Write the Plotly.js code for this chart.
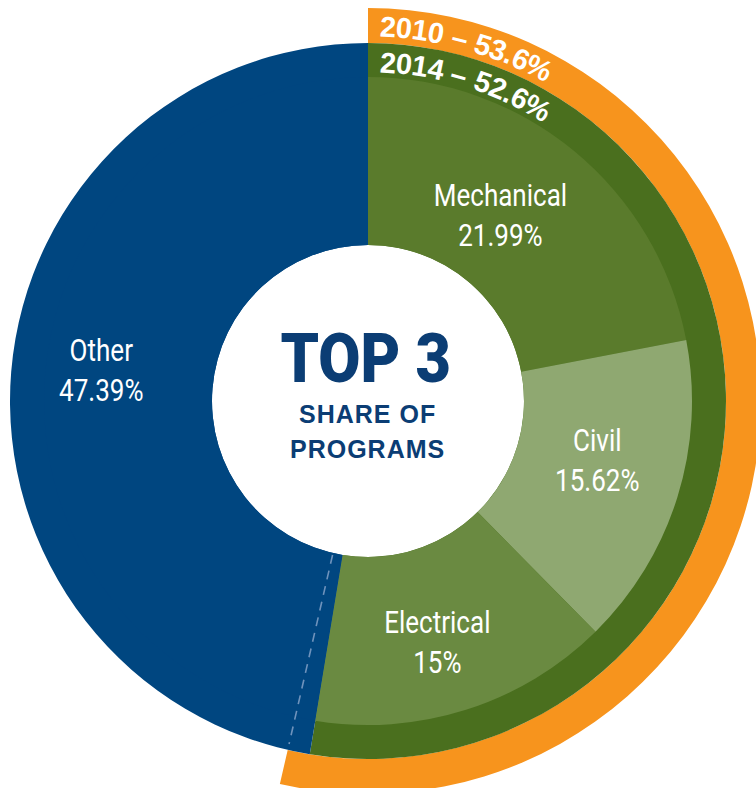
<!DOCTYPE html>
<html><head><meta charset="utf-8">
<script src="https://cdn.plot.ly/plotly-3.0.1.min.js"></script>
<style>
html,body{margin:0;padding:0;overflow:hidden;background:#fff;width:756px;height:788px;}
#chart{position:absolute;left:-50px;top:-20px;width:856px;height:840px;}
</style>
</head><body><div id="chart"></div>
<script>
// ---- data ----
const programs = ['Mechanical', 'Civil', 'Electrical', 'Other'];
const share2014 = [21.99, 15.62, 15, 47.39];
const shareLabels = ['21.99%', '15.62%', '15%', '47.39%'];
const topYears = ['2010', '2014'];
const topShare = [53.6, 52.6];
const centerTitle = 'TOP 3';
const centerSub = ['SHARE OF', 'PROGRAMS'];

// ---- layout geometry (page pixels) ----
const W = 856, H = 840, OFFX = 50, OFFY = 20;
const CX = 368, CY = 401;
const R_OUT = 393, R_RING = 358, R_IN = 324, R_HOLE = 156;
const px = x => (x + OFFX) / W;
const py = y => 1 - (y + OFFY) / H;
function dom(R) {
  return { x: [(CX + OFFX - R) / W, (CX + OFFX + R) / W],
           y: [1 - (CY + OFFY + R) / H, 1 - (CY + OFFY - R) / H] };
}
const BLUE = '#004680', ORANGE = '#F7941D', DARKG = '#4A6F1E';
const sliceColors = ['#5A7B2C', '#8FA871', '#6A8A41', BLUE];
const NAVY = '#0B3D74';

const common = { type: 'pie', sort: false, direction: 'clockwise', rotation: 0,
  textinfo: 'none', hoverinfo: 'skip', showlegend: false };

const traces = [
  Object.assign({}, common, { values: [topShare[0], 100 - topShare[0]], domain: dom(R_OUT),
    hole: R_RING / R_OUT, marker: { colors: [ORANGE, 'rgba(0,0,0,0)'] } }),
  Object.assign({}, common, { values: [topShare[1], 100 - topShare[1]], domain: dom(R_RING),
    hole: R_HOLE / R_RING, marker: { colors: [DARKG, BLUE] } }),
  Object.assign({}, common, { labels: programs, values: share2014, domain: dom(R_IN),
    hole: R_HOLE / R_IN, marker: { colors: sliceColors } })
];

const annotations = [];
const condensed = {}; // annotation index -> horizontal scale
const LABEL_FONT = 'Roboto, Arial, sans-serif';
const labelPos = [[500, 215], [597, 461], [438, 642], [101, 370]];
programs.forEach((p, i) => {
  condensed[annotations.length] = 0.84;
  annotations.push({ text: p + '<br>' + shareLabels[i], x: px(labelPos[i][0]), y: py(labelPos[i][1]),
    xref: 'paper', yref: 'paper', showarrow: false, xanchor: 'center', yanchor: 'middle',
    font: { family: LABEL_FONT, size: 31, color: '#ffffff' } });
});
condensed[annotations.length] = 0.9;
annotations.push({ text: centerTitle, x: px(366), y: py(359), xref: 'paper', yref: 'paper',
  showarrow: false, xanchor: 'center', yanchor: 'middle',
  font: { family: LABEL_FONT, size: 68, weight: 900, color: NAVY } });
[414, 449].forEach((yy, i) => {
  annotations.push({ text: '<span style="letter-spacing:1px">' + centerSub[i] + '</span>',
    x: px(367), y: py(yy), xref: 'paper', yref: 'paper', showarrow: false,
    xanchor: 'center', yanchor: 'middle',
    font: { family: 'Liberation Sans, Arial, sans-serif', size: 25, weight: 700, color: NAVY } });
});

// curved ring labels
const canvas = document.createElement('canvas');
const ctx = canvas.getContext('2d');
function arcText(str, rMid, size, startPx) {
  ctx.font = 'bold ' + size + 'px "Liberation Sans"';
  let s = startPx;
  for (const ch of str) {
    const w = ctx.measureText(ch).width;
    const th = (s + w / 2) / rMid;
    if (ch !== ' ') {
      annotations.push({ text: ch, x: px(CX + rMid * Math.sin(th)), y: py(CY - rMid * Math.cos(th)),
        xref: 'paper', yref: 'paper', showarrow: false, xanchor: 'center', yanchor: 'middle',
        textangle: th * 180 / Math.PI, borderpad: 0,
        font: { family: 'Liberation Sans, Arial, sans-serif', size: size, weight: 700, color: '#ffffff' } });
    }
    s += w;
  }
}
arcText(topYears[0] + ' \u2013 ' + topShare[0] + '%', (R_RING + R_OUT) / 2 - 1, 29, 12);
arcText(topYears[1] + ' \u2013 ' + topShare[1] + '%', (R_IN + R_RING) / 2 - 2, 29, 12);

// dashed marker for the 2010 share inside "Other"
const a = topShare[0] / 100 * 2 * Math.PI;
const shapes = [{ type: 'line', xref: 'paper', yref: 'paper', layer: 'above',
  x0: px(CX + (R_HOLE + 2) * Math.sin(a)), y0: py(CY - (R_HOLE + 2) * Math.cos(a)),
  x1: px(CX + (R_RING - 6) * Math.sin(a)), y1: py(CY - (R_RING - 6) * Math.cos(a)),
  line: { color: '#6F93BC', width: 1.6, dash: '9px,7px' } }];

Plotly.newPlot('chart', traces, {
  width: W, height: H, margin: { l: 0, r: 0, t: 0, b: 0 },
  paper_bgcolor: '#ffffff', plot_bgcolor: '#ffffff', showlegend: false,
  annotations: annotations, shapes: shapes
}, { staticPlot: true, displayModeBar: false }).then(gd => {
  Object.keys(condensed).forEach(k => {
    const t = gd.querySelector('g.annotation[data-index="' + k + '"] text.annotation-text');
    if (t) {
      t.style.transformBox = 'fill-box';
      t.style.transformOrigin = 'center';
      t.style.transform = 'scaleX(' + condensed[k] + ')';
    }
  });
});
</script>
</body></html>
